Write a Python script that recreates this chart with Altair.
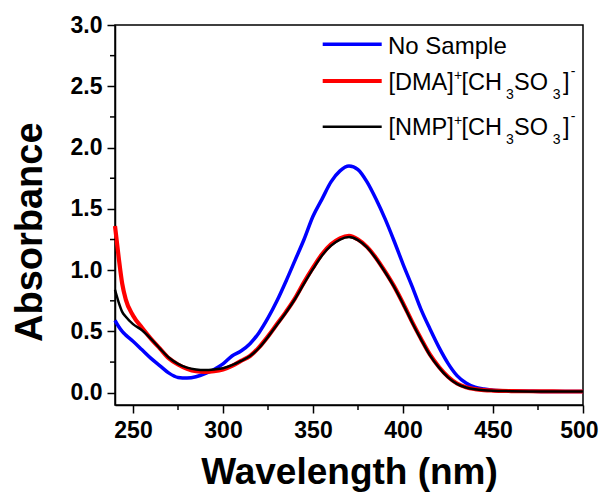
import altair as alt
import pandas as pd

wavelength = [240, 242, 244, 246, 250, 255, 260, 265, 270, 275, 280, 285, 290, 295, 300,
              305, 310, 315, 320, 325, 330, 335, 340, 345, 350, 355, 360, 365, 370, 375,
              380, 385, 390, 395, 400, 405, 410, 415, 420, 425, 430, 435, 440, 445, 450,
              460, 470, 480, 490, 500]

no_sample = [0.59, 0.54, 0.50, 0.47, 0.42, 0.35, 0.28, 0.22, 0.16, 0.125, 0.12, 0.13, 0.155, 0.19, 0.235,
             0.30, 0.34, 0.40, 0.49, 0.61, 0.75, 0.91, 1.08, 1.25, 1.44, 1.58, 1.72, 1.81, 1.85, 1.82,
             1.72, 1.58, 1.42, 1.24, 1.05, 0.87, 0.68, 0.52, 0.37, 0.24, 0.14, 0.08, 0.045, 0.03, 0.02,
             0.015, 0.012, 0.01, 0.01, 0.01]

dma = [1.36, 1.11, 0.89, 0.76, 0.63, 0.53, 0.44, 0.36, 0.28, 0.23, 0.195, 0.175, 0.17, 0.175, 0.19,
       0.22, 0.26, 0.30, 0.37, 0.46, 0.56, 0.66, 0.77, 0.90, 1.02, 1.13, 1.21, 1.26, 1.28, 1.25,
       1.19, 1.10, 0.99, 0.87, 0.73, 0.58, 0.44, 0.31, 0.21, 0.13, 0.075, 0.045, 0.03, 0.022, 0.018,
       0.014, 0.012, 0.011, 0.01, 0.01]

nmp = [0.84, 0.74, 0.66, 0.62, 0.56, 0.51, 0.44, 0.36, 0.285, 0.235, 0.205, 0.19, 0.185, 0.19, 0.20,
       0.225, 0.26, 0.30, 0.365, 0.455, 0.555, 0.655, 0.765, 0.89, 1.01, 1.12, 1.20, 1.25, 1.27, 1.245,
       1.185, 1.095, 0.985, 0.865, 0.725, 0.575, 0.435, 0.305, 0.205, 0.125, 0.072, 0.043, 0.028, 0.02, 0.016,
       0.013, 0.011, 0.01, 0.01, 0.01]

x_ticks = [250, 300, 350, 400, 450, 500]
x_minor = [275, 325, 375, 425, 475]
y_ticks = [0.0, 0.5, 1.0, 1.5, 2.0, 2.5, 3.0]
y_minor = [0.25, 0.75, 1.25, 1.75, 2.25, 2.75]

FONT = "Liberation Sans"
W, H = 468, 380

xscale = alt.Scale(domain=[240, 500], nice=False, zero=False)
yscale = alt.Scale(domain=[-0.1, 3.0], nice=False, zero=False)

x_axis = alt.Axis(values=x_ticks, format="d", title="Wavelength (nm)", titleFont=FONT,
                  titleFontSize=37, titleFontWeight="bold", titleColor="black",
                  titleY=78.5, titleBaseline="alphabetic",
                  labelFont=FONT, labelFontSize=23, labelFontWeight="bold", labelColor="black",
                  labelPadding=6, labelFlush=1, labelFlushOffset=15,
                  tickSize=8, tickWidth=1.5, tickColor="black",
                  domainColor="black", domainWidth=1.5, grid=False)
y_axis = alt.Axis(values=y_ticks, format=".1f", title="Absorbance", titleFont=FONT,
                  titleFontSize=38, titleFontWeight="bold", titleColor="black",
                  titleX=-73.3, titleY=206.7, titleBaseline="alphabetic", titleAlign="center",
                  labelFont=FONT, labelFontSize=23, labelFontWeight="bold", labelColor="black",
                  labelPadding=5, tickSize=8, tickWidth=1.5, tickColor="black",
                  domainColor="black", domainWidth=1.5, grid=False)

df = pd.DataFrame({"wl": wavelength, "blue": no_sample, "red": dma, "black": nmp})


def curve(col, color, width):
    return alt.Chart(df).mark_line(color=color, strokeWidth=width, interpolate="monotone").encode(
        x=alt.X("wl:Q", scale=xscale, axis=x_axis),
        y=alt.Y(f"{col}:Q", scale=yscale, axis=y_axis),
    )


layers = [curve("blue", "#0000FF", 3.5), curve("red", "#FF0000", 4.2), curve("black", "#000000", 2.5)]

# minor ticks
layers.append(alt.Chart(pd.DataFrame({"v": x_minor})).mark_rule(color="black", strokeWidth=1.5).encode(
    x=alt.X("v:Q", scale=xscale, axis=x_axis), y=alt.value(H), y2=alt.value(H + 5)))
layers.append(alt.Chart(pd.DataFrame({"v": y_minor})).mark_rule(color="black", strokeWidth=1.5).encode(
    y=alt.Y("v:Q", scale=yscale, axis=y_axis), x=alt.value(-5), x2=alt.value(0)))

# legend
dummy = pd.DataFrame({"a": [0]})
for y, color, width in [(19.3, "#0000FF", 3.5), (56, "#FF0000", 4.2), (101.7, "#000000", 2.5)]:
    layers.append(alt.Chart(dummy).mark_rule(color=color, strokeWidth=width).encode(
        x=alt.value(207.7), x2=alt.value(266.7), y=alt.value(y)))


def seg(text, x, y, size):
    return alt.Chart(dummy).mark_text(align="left", baseline="alphabetic", font=FONT,
                                      fontSize=size, color="black").encode(
        x=alt.value(x), y=alt.value(y), text=alt.value(text))


layers.append(seg("No Sample", 273, 29, 24))
for name, base in [("[DMA]", 65.3), ("[NMP]", 110.3)]:
    layers += [
        seg(name, 273.5, base, 23.5),
        seg("+", 339, base - 10, 14),
        seg("[CH", 346.5, base, 23.5),
        seg("3", 391, base + 8.7, 14),
        seg("SO", 399, base, 23.5),
        seg("3", 437.7, base + 8.7, 14),
        seg("]", 448, base, 23.5),
        seg("-", 455.7, base - 14.3, 14),
    ]

chart = alt.layer(*layers).properties(
    width=W, height=H,
    autosize=alt.AutoSizeParams(type="none"),
    padding={"left": 107, "top": 17, "right": 16, "bottom": 87},
    background="white",
).configure_view(stroke="black", strokeWidth=1.5)

chart.save("out.html", embed_options={"renderer": "svg", "actions": False})
